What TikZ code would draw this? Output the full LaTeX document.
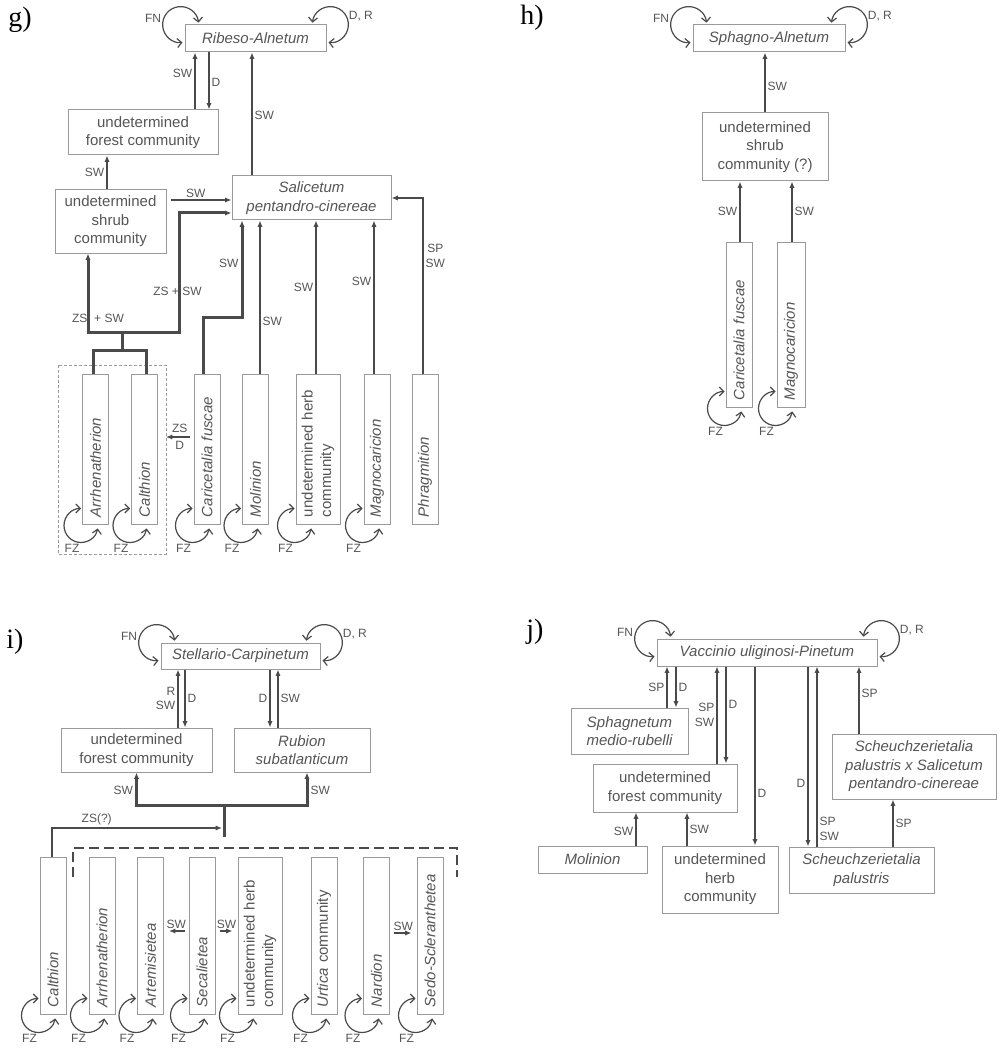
\documentclass[tikz,border=0pt]{standalone}
\usepackage{fontspec}
\setmainfont{Liberation Sans}
\newfontfamily\panelfont{Liberation Serif}
\usetikzlibrary{arrows.meta,calc}
\definecolor{txtgray}{HTML}{555555}
\definecolor{linegray}{HTML}{4A4A4A}
\definecolor{boxgray}{HTML}{9A9A9A}
\tikzset{
  box/.style={draw=boxgray,line width=0.5pt,text=txtgray,font=\fontsize{7.5}{9.2}\selectfont,align=center,inner sep=0pt},
  wh/.style 2 args={minimum width=#1*0.5pt,minimum height=#2*0.5pt},
  it/.style={font=\fontsize{7.5}{9.2}\selectfont\itshape},
  vbox/.style={box,rotate=90,align=left,inner xsep=3.5pt,inner ysep=0pt,minimum height=13pt},
  lab/.style={text=txtgray,font=\fontsize{6}{7.4}\selectfont,inner sep=1pt,align=center},
  arr/.style={draw=linegray,line width=0.7pt,-{Latex[length=3.2pt,width=2.6pt]}},
  thk/.style={line width=1.5pt},
  looparr/.style={draw=linegray,line width=0.6pt,{Straight Barb[length=2.2pt,width=4.5pt]}-{Straight Barb[length=2.2pt,width=4.5pt]}},
  panel/.style={font=\panelfont\fontsize{14}{14}\selectfont}
}
\begin{document}
\begin{tikzpicture}[x=0.5pt,y=0.5pt]
  \useasboundingbox (0,0) rectangle (1000,-1048);
  % g)
  \node[panel] (lg) at (20,-20) {g)};
  \node[box,it,wh={141}{27}] (ribeso) at (255.5,-38.5) {Ribeso-Alnetum};
  \node[box,wh={150}{45}] (forestg) at (143,-132.5) {undetermined\\forest community};
  \node[box,wh={111}{63}] (shrubg) at (110.5,-221.5) {undetermined\\shrub\\community};
  \node[box,it,wh={159}{44}] (salix) at (311.5,-198) {Salicetum\\pentandro-cinereae};
  \node[vbox,it,text width=68pt] (arrg) at (95.5,-449) {Arrhenatherion};
  \node[vbox,it,text width=68pt] (calg) at (144.5,-449) {Calthion};
  \node[vbox,it,text width=68pt] (carg) at (207,-449) {Caricetalia fuscae};
  \node[vbox,it,text width=68pt] (molg) at (255.5,-449) {Molinion};
  \node[vbox,text width=68pt,minimum height=22pt] (herbg) at (318,-449) {undetermined herb\\community};
  \node[vbox,it,text width=68pt] (magg) at (377,-449) {Magnocaricion};
  \node[vbox,it,text width=68pt] (phrg) at (425,-449) {Phragmition};
  \draw[boxgray,line width=0.5pt,dash pattern=on 1.5pt off 1pt] (58,-365) rectangle (166,-554);
  \coordinate (grpE) at (166,-437);
  \coordinate (gj1) at (122,-350);
  \coordinate (gj2) at (122,-332);

  \draw[arr] ([xshift=26pt]forestg.north) -- ([xshift=26pt]forestg.north |- ribeso.south) node[lab,pos=.64,left]{SW};
  \draw[arr] ([xshift=33pt]forestg.north |- ribeso.south) -- ([xshift=33pt]forestg.north) node[lab,pos=.52,right]{D};
  \draw[arr] ([xshift=-29.75pt]salix.north) -- ([xshift=-29.75pt]salix.north |- ribeso.south) node[lab,pos=.49,right]{SW};
  \draw[arr] ([xshift=-1.75pt]shrubg.north) -- ([xshift=-1.75pt]shrubg.north |- forestg.south) node[lab,midway,left]{SW};
  \draw[arr,shorten <=2pt] ([yshift=10.75pt]shrubg.east) -- ([yshift=10.75pt]shrubg.east -| salix.west) node[lab,pos=.45,above]{SW};
  \draw[linegray,thk] ([xshift=-1.25pt]arrg.east) |- (gj1) -| ([xshift=.75pt]calg.east);
  \draw[linegray,thk] (gj1) -- (gj2);
  \draw[arr,thk] (gj2) -| ([xshift=-11.25pt]shrubg.south) node[lab,pos=.59,xshift=5pt]{ZS\ \ + SW};
  \draw[arr,thk] (gj2) -| ([xshift=-26pt,yshift=-7.5pt]salix.west) node[lab,pos=.67,xshift=-1pt]{ZS + SW} -- ([yshift=-7.5pt]salix.west);
  \draw[arr,thk] ([xshift=-2pt]carg.east) -- ++(0,56) -| ([xshift=-34.75pt]salix.south) node[lab,pos=.78,left]{SW};
  \draw[arr] ([xshift=2.25pt]molg.east) -- ([xshift=2.25pt]molg.east |- salix.south) node[lab,pos=.34,right]{SW};
  \draw[arr] ([xshift=-1pt]herbg.east) -- ([xshift=-1pt]herbg.east |- salix.south) node[lab,pos=.56,left]{SW};
  \draw[arr] ([xshift=-1.5pt]magg.east) -- ([xshift=-1.5pt]magg.east |- salix.south) node[lab,pos=.6,left]{SW};
  \draw[arr] ([xshift=-1pt]phrg.east) |- (salix.east) node[lab,pos=.335,right]{SP\\SW};
  \draw[arr,shorten <=2pt] ([yshift=6pt]carg.north) -- (grpE) node[lab,midway,above,yshift=1pt]{ZS} node[lab,midway,below,yshift=-1pt]{D};

  % h)
  \node[panel] (lh) at (532,-18) {h)};
  \node[box,it,wh={152}{27}] (sphagno) at (769,-38.5) {Sphagno-Alnetum};
  \node[box,wh={126}{68}] (shrubh) at (765,-147) {undetermined\\shrub\\community (?)};
  \node[vbox,it,text width=75.5pt] (carh) at (739,-324.5) {Caricetalia fuscae};
  \node[vbox,it,text width=75.5pt,minimum height=14pt] (magh) at (791,-324.5) {Magnocaricion};
  \draw[arr] (shrubh.north) -- (shrubh.north |- sphagno.south) node[lab,pos=.44,right]{SW};
  \draw[arr] ([xshift=.5pt]carh.east) -- ([xshift=.5pt]carh.east |- shrubh.south) node[lab,midway,left]{SW};
  \draw[arr] ([xshift=.5pt]magh.east) -- ([xshift=.5pt]magh.east |- shrubh.south) node[lab,midway,right]{SW};

  % i)
  \node[panel] (li) at (15,-642) {i)};
  \node[box,it,wh={159}{26}] (stell) at (240.5,-656) {Stellario-Carpinetum};
  \node[box,wh={151}{44}] (foresti) at (136.5,-750) {undetermined\\forest community};
  \node[box,it,wh={136}{44}] (rubion) at (302,-750) {Rubion\\subatlanticum};
  \node[vbox,it,text width=71.5pt] (cali) at (53,-935.5) {Calthion};
  \node[vbox,it,text width=71.5pt] (arri) at (102,-935.5) {Arrhenatherion};
  \node[vbox,it,text width=71.5pt] (arti) at (150.5,-935.5) {Artemisietea};
  \node[vbox,it,text width=71.5pt] (seci) at (202,-935.5) {Secalietea};
  \node[vbox,text width=71.5pt,minimum height=22pt] (herbi) at (260,-935.5) {undetermined herb\\community};
  \node[vbox,text width=71.5pt] (urti) at (324,-935.5) {\textit{Urtica} community};
  \node[vbox,it,text width=71.5pt] (nari) at (376.5,-935.5) {Nardion};
  \node[vbox,it,text width=71.5pt] (sedi) at (430,-935.5) {Sedo-Scleranthetea};
  \coordinate (ij1) at (224,-805);
  \coordinate (ij2) at (224,-837);
  \coordinate (ij3) at (224,-828);

  \draw[arr] ([xshift=20.75pt]foresti.north) -- ([xshift=20.75pt]foresti.north |- stell.south) node[lab,midway,left,align=right]{R\\SW};
  \draw[arr] ([xshift=24.25pt]foresti.north |- stell.south) -- ([xshift=24.25pt]foresti.north) node[lab,midway,right]{D};
  \draw[arr] ([xshift=-16pt]rubion.north |- stell.south) -- ([xshift=-16pt]rubion.north) node[lab,midway,left]{D};
  \draw[arr] ([xshift=-12pt]rubion.north) -- ([xshift=-12pt]rubion.north |- stell.south) node[lab,midway,right]{SW};
  \draw[linegray,thk] (ij2) -- (ij1);
  \draw[arr,thk] (ij1) -| (foresti.south) node[lab,pos=.73,left]{SW};
  \draw[arr,thk] (ij1) -| ([xshift=2.5pt]rubion.south) node[lab,pos=.73,right]{SW};
  \draw[arr,line width=1.1pt,shorten >=1pt] ([xshift=-.5pt]cali.east) |- (ij3) node[lab,pos=.63,above]{ZS(?)};
  \draw[linegray,line width=1.4pt,dash pattern=on 5pt off 2.5pt] (73,-877) |- (457,-848) -- (457,-877);
  \draw[arr,shorten <=2pt,shorten >=2.5pt] ([yshift=2.25pt]seci.north) -- ([yshift=2.25pt]seci.north -| arti.south) node[lab,midway,above]{SW};
  \draw[arr,shorten <=2pt,shorten >=2.5pt] ([yshift=2.25pt]seci.south) -- ([yshift=2.25pt]seci.south -| herbi.north) node[lab,midway,above]{SW};
  \draw[arr,shorten <=2pt,shorten >=2.5pt] ([yshift=1.25pt]nari.south) -- ([yshift=1.25pt]nari.south -| sedi.north) node[lab,midway,above]{SW};

  % j)
  \node[panel] (lj) at (535,-632) {j)};
  \node[box,it,wh={220}{27}] (vacc) at (767,-652.5) {Vaccinio uliginosi-Pinetum};
  \node[box,it,wh={117}{46}] (sphmr) at (629.5,-731) {Sphagnetum\\medio-rubelli};
  \node[box,wh={144}{48}] (forestj) at (665,-788) {undetermined\\forest community};
  \node[box,it,wh={109}{27}] (molj) at (592.5,-859.5) {Molinion};
  \node[box,wh={116}{67}] (herbj) at (720,-879.5) {undetermined\\herb\\community};
  \node[box,it,wh={145}{46}] (scheu) at (861.5,-870) {Scheuchzerietalia\\palustris};
  \node[box,it,wh={164}{65}] (scheusal) at (914,-766.5) {Scheuchzerietalia\\palustris x Salicetum\\pentandro-cinereae};

  \draw[arr] ([xshift=18.75pt]sphmr.north) -- ([xshift=18.75pt]sphmr.north |- vacc.south) node[lab,midway,left]{SP};
  \draw[arr] ([xshift=23.25pt]sphmr.north |- vacc.south) -- ([xshift=23.25pt]sphmr.north) node[lab,midway,right]{D};
  \draw[arr] ([xshift=26pt]forestj.north) -- ([xshift=26pt]forestj.north |- vacc.south) node[lab,midway,left,align=right]{SP\\SW};
  \draw[arr] ([xshift=30.5pt]forestj.north |- vacc.south) -- ([xshift=30.5pt]forestj.north) node[lab,pos=.39,right]{D};
  \draw[arr] ([xshift=17.5pt]herbj.north |- vacc.south) -- ([xshift=17.5pt]herbj.north) node[lab,pos=.71,right]{D};
  \draw[arr] ([xshift=-26.75pt]scheu.north |- vacc.south) -- ([xshift=-26.75pt]scheu.north) node[lab,pos=.65,left]{D};
  \draw[arr] ([xshift=-22.25pt]scheu.north) -- ([xshift=-22.25pt]scheu.north |- vacc.south) node[lab,pos=.1,right,align=left]{SP\\SW};
  \draw[arr] ([xshift=-27.5pt]scheusal.north) -- ([xshift=-27.5pt]scheusal.north |- vacc.south) node[lab,pos=.6,right]{SP};
  \draw[arr] ([xshift=15.75pt]scheu.north) -- ([xshift=15.75pt]scheu.north |- scheusal.south) node[lab,midway,right]{SP};
  \draw[arr] ([xshift=21.75pt]molj.north) -- ([xshift=21.75pt]molj.north |- forestj.south) node[lab,pos=.44,left]{SW};
  \draw[arr] ([xshift=-16.5pt]herbj.north) -- ([xshift=-16.5pt]herbj.north |- forestj.south) node[lab,midway,right]{SW};

  % self loops
  \foreach \t in {ribeso,sphagno,stell,vacc}{
    \draw[looparr] ($(\t.north west)+(-2,-18)$) arc(276:6:18);
    \draw[looparr] ($(\t.north east)+(2,-18)$) arc(-96:174:18);
    \node[lab,anchor=east] at ($(\t.north west)+(-21,6)$) {FN};
    \node[lab,anchor=west] at ($(\t.north east)+(20,8)$) {D, R};
  }
  \foreach \b in {arrg,calg,carg,molg,herbg,magg,carh,magh,cali,arri,arti,seci,herbi,urti,nari,sedi}{
    \draw[looparr] ($(\b.north west)+(-1,16)$) arc(90:350:17);
    \node[lab] at ($(\b.north west)+(-10,-24)$) {FZ};
  }
\end{tikzpicture}
\end{document}
